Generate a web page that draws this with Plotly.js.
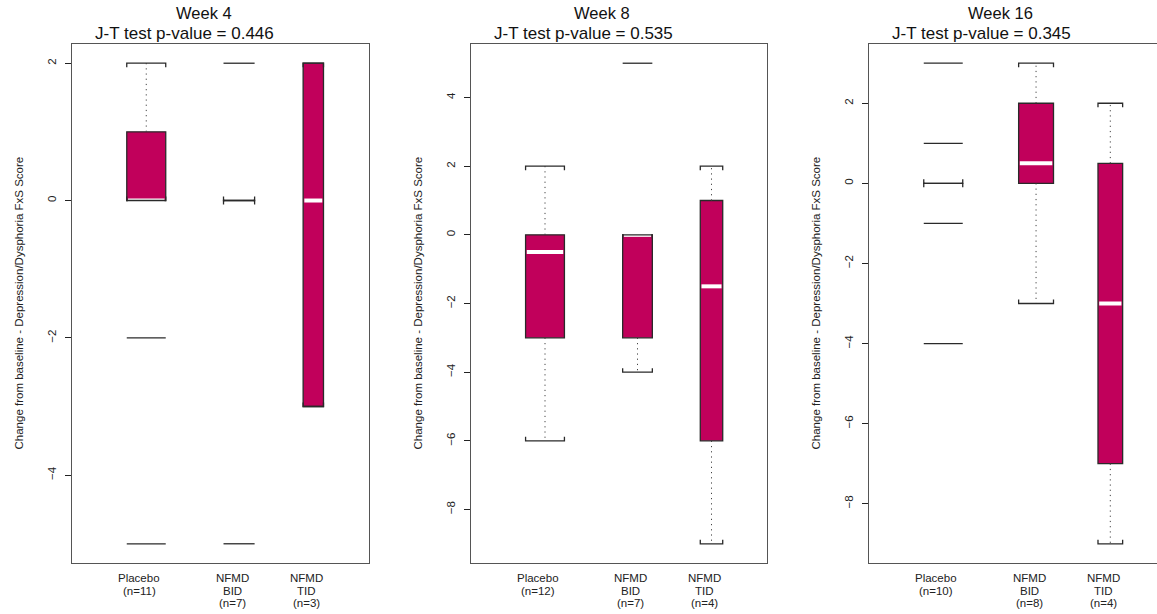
<!DOCTYPE html>
<html>
<head>
<meta charset="utf-8">
<script src="https://cdn.plot.ly/plotly-3.0.1.min.js"></script>
<style>
  html, body { margin: 0; padding: 0; overflow: hidden; background: #fff; }
  #chart { width: 1170px; height: 614px; }
</style>
</head>
<body>
<div id="chart"></div>
<script>
// ---------- data ----------
const groupLabels = ["Placebo", "NFMD<br>BID", "NFMD<br>TID"];
const groupPos = [1, 2, 2.8];

const weekTitles = ["Week 4", "Week 8", "Week 16"];
const pValues = ["0.446", "0.535", "0.345"];

// Week 4
const w4_n = [11, 7, 3];
const w4_q1 = [0, 0, -3];
const w4_med = [0, 0, 0];
const w4_q3 = [1, 0, 2];
const w4_lo = [0, 0, -3];
const w4_hi = [2, 0, 2];
const w4_out = [[-2, -5], [2, -5], []];

// Week 8
const w8_n = [12, 7, 4];
const w8_q1 = [-3, -3, -6];
const w8_med = [-0.5, 0, -1.5];
const w8_q3 = [0, 0, 1];
const w8_lo = [-6, -4, -9];
const w8_hi = [2, 0, 2];
const w8_out = [[], [5], []];

// Week 16
const w16_n = [10, 8, 4];
const w16_q1 = [0, 0, -7];
const w16_med = [0, 0.5, -3];
const w16_q3 = [0, 2, 0.5];
const w16_lo = [0, -3, -9];
const w16_hi = [0, 3, 2];
const w16_out = [[3, 1, -1, -4], [], []];

const yTitle = "Change from baseline - Depression/Dysphoria FxS Score";

// ---------- styling ----------
const FILL = "#C1005B";
const EDGE = "#2a2a2a";
const FONT = "Liberation Sans, Arial, Helvetica, sans-serif";
const BOXW = 0.42;
const XR = [0.2, 3.4];
const W = 1170, H = 614, MT = 44, MB = 51;
const domainsPx = [[72, 369], [471, 767], [869, 1166]];

const panels = [
  {n: w4_n, q1: w4_q1, med: w4_med, q3: w4_q3, lo: w4_lo, hi: w4_hi, out: w4_out},
  {n: w8_n, q1: w8_q1, med: w8_med, q3: w8_q3, lo: w8_lo, hi: w8_hi, out: w8_out},
  {n: w16_n, q1: w16_q1, med: w16_med, q3: w16_q3, lo: w16_lo, hi: w16_hi, out: w16_out}
];

const traces = [];
const layout = {
  width: W, height: H,
  margin: {l: 0, r: 0, t: MT, b: MB, pad: 0},
  paper_bgcolor: "#fff", plot_bgcolor: "#fff",
  showlegend: false,
  font: {family: FONT, size: 11, color: "#222"},
  annotations: [],
  bargap: 0
};

panels.forEach((p, i) => {
  const sfx = i === 0 ? "" : String(i + 1);
  const xa = "x" + sfx, ya = "y" + sfx;
  const allVals = [].concat(p.lo, p.hi, p.q1, p.q3, ...p.out);
  const mn = Math.min(...allVals), mx = Math.max(...allVals);
  const ext = (mx - mn) * 0.04;
  const yr = [mn - ext, mx + ext];
  const plotH = H - MT - MB;
  const pxPerY = plotH / (yr[1] - yr[0]);
  const pxPerX = (domainsPx[i][1] - domainsPx[i][0]) / (XR[1] - XR[0]);
  const tick = 4 / pxPerY;
  const inset = 1.2 / pxPerX;
  const maxS = Math.max(...p.n.map(Math.sqrt));
  const widths = p.n.map(v => Math.sqrt(v) / maxS * BOXW);

  // boxes
  traces.push({
    type: "bar", x: groupPos, base: p.q1, y: p.q3.map((v, k) => v - p.q1[k]),
    width: widths, xaxis: xa, yaxis: ya, hoverinfo: "skip",
    marker: {color: FILL, line: {color: EDGE, width: 1.3}}
  });
  // medians
  const mx_ = [], my_ = [];
  groupPos.forEach((x, k) => {
    mx_.push(x - widths[k] / 2 + inset, x + widths[k] / 2 - inset, null);
    my_.push(p.med[k], p.med[k], null);
  });
  traces.push({type: "scatter", mode: "lines", x: mx_, y: my_, xaxis: xa, yaxis: ya,
    line: {color: "#ffffff", width: 4}, hoverinfo: "skip"});
  // whiskers
  const wx = [], wy = [];
  groupPos.forEach((x, k) => {
    if (p.hi[k] > p.q3[k]) { wx.push(x, x, null); wy.push(p.q3[k], p.hi[k], null); }
    if (p.lo[k] < p.q1[k]) { wx.push(x, x, null); wy.push(p.q1[k], p.lo[k], null); }
  });
  traces.push({type: "scatter", mode: "lines", x: wx, y: wy, xaxis: xa, yaxis: ya,
    line: {color: "#444", width: 1, dash: "1.2px,4px"}, hoverinfo: "skip"});
  // staples
  const sx = [], sy = [];
  groupPos.forEach((x, k) => {
    const a = x - widths[k] / 2, b = x + widths[k] / 2;
    sx.push(a, a, b, b, null); sy.push(p.hi[k] - tick, p.hi[k], p.hi[k], p.hi[k] - tick, null);
    sx.push(a, a, b, b, null); sy.push(p.lo[k] + tick, p.lo[k], p.lo[k], p.lo[k] + tick, null);
  });
  traces.push({type: "scatter", mode: "lines", x: sx, y: sy, xaxis: xa, yaxis: ya,
    line: {color: EDGE, width: 1.3}, hoverinfo: "skip"});
  // outliers
  const ox = [], oy = [];
  groupPos.forEach((x, k) => {
    p.out[k].forEach(v => {
      ox.push(x - widths[k] / 2, x + widths[k] / 2, null); oy.push(v, v, null);
    });
  });
  traces.push({type: "scatter", mode: "lines", x: ox, y: oy, xaxis: xa, yaxis: ya,
    line: {color: EDGE, width: 1.3}, hoverinfo: "skip"});

  layout["xaxis" + sfx] = {
    domain: [domainsPx[i][0] / W, domainsPx[i][1] / W], range: XR, anchor: ya,
    showline: true, mirror: true, linecolor: "#555", linewidth: 1.3,
    showgrid: false, zeroline: false, showticklabels: false, ticks: "", fixedrange: true
  };
  layout["yaxis" + sfx] = {
    domain: [0, 1], range: yr, anchor: xa, tick0: 0, dtick: 2,
    showline: true, mirror: true, linecolor: "#555", linewidth: 1.3,
    ticks: "outside", ticklen: 6, tickwidth: 1, tickcolor: "#222",
    tickangle: -90, tickfont: {family: FONT, size: 11.5, color: "#222"},
    ticklabelstandoff: 4,
    showgrid: false, zeroline: false, fixedrange: true, automargin: false
  };

  // titles
  layout.annotations.push({
    text: weekTitles[i], xref: xa + " domain", yref: ya + " domain", x: 0.5, y: 1,
    xshift: -17, yshift: 31, xanchor: "center", yanchor: "middle", showarrow: false,
    font: {family: FONT, size: 16.5, color: "#111"}
  });
  layout.annotations.push({
    text: "J-T test p-value = " + pValues[i], xref: xa + " domain", yref: ya + " domain",
    x: 0.5, y: 1, xshift: -36, yshift: 11, xanchor: "center", yanchor: "middle",
    showarrow: false, font: {family: FONT, size: 17, color: "#111"}
  });
  // y title
  layout.annotations.push({
    text: yTitle, xref: xa + " domain", yref: ya + " domain", x: 0, y: 0.5,
    xshift: -54, xanchor: "center", yanchor: "middle", textangle: -90, showarrow: false,
    font: {family: FONT, size: 11.5, color: "#222"}
  });
  // group labels, one annotation per line for R-like line spacing
  groupPos.forEach((x, k) => {
    const lines = groupLabels[k].split("<br>").concat(["(n=" + p.n[k] + ")"]);
    lines.forEach((ln, j) => {
      layout.annotations.push({
        text: ln, xref: xa, yref: ya + " domain",
        x: x, y: 0, xshift: -7, yshift: -15 - 12.5 * j, xanchor: "center", yanchor: "middle",
        showarrow: false, font: {family: FONT, size: 11.5, color: "#222"}
      });
    });
  });
});

Plotly.newPlot("chart", traces, layout, {staticPlot: true, displayModeBar: false});
</script>
</body>
</html>
